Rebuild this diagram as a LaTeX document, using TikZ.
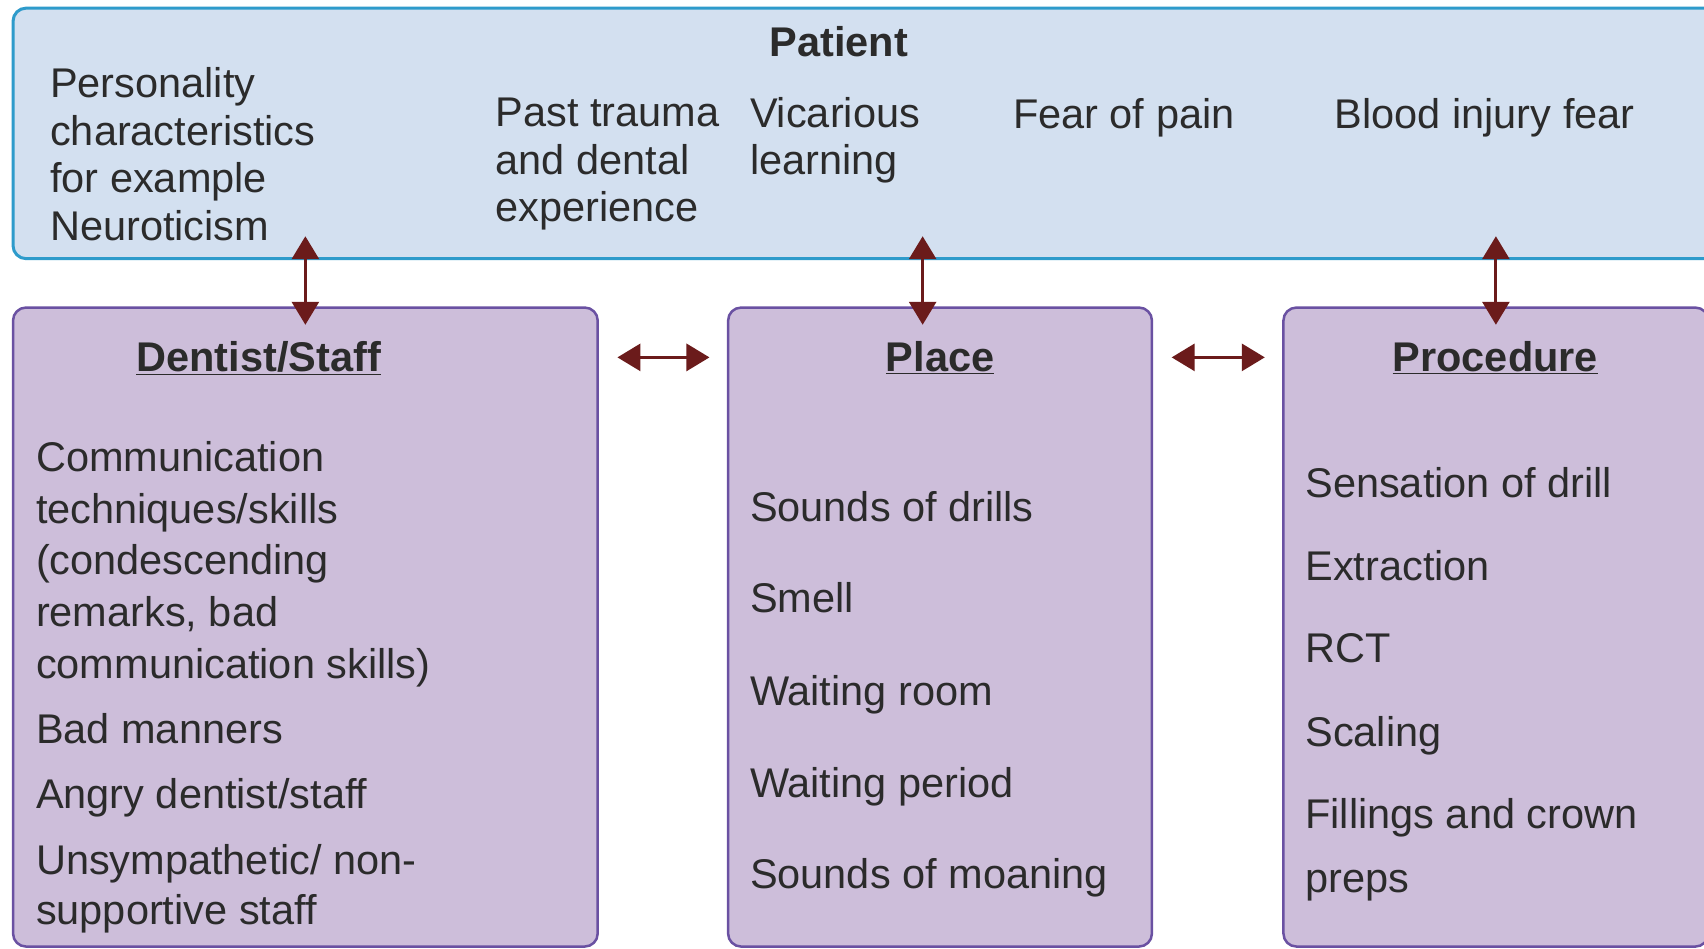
\documentclass[tikz,border=0pt]{standalone}
\usepackage{fontspec}
\setmainfont{Liberation Sans}
\usetikzlibrary{fit,arrows.meta,calc}
\definecolor{patFill}{HTML}{D3E0F0}
\definecolor{patLine}{HTML}{2E9BCB}
\definecolor{catFill}{HTML}{CDBEDA}
\definecolor{catLine}{HTML}{6A51A2}
\definecolor{arrC}{HTML}{6B1B1B}
\definecolor{txtC}{HTML}{2B2B2B}
\begin{document}
\begin{tikzpicture}[x=1.0867pt,y=-1.0867pt,
  patbox/.style={draw=patLine, fill=patFill, line width=3pt, rounded corners=13pt, inner sep=0pt},
  catbox/.style={draw=catLine, fill=catFill, line width=2.5pt, rounded corners=13pt, inner sep=0pt},
  txt/.style={font=\fontsize{41.5}{47.5}\selectfont, text=txtC, inner sep=0pt, anchor=base west, align=left},
  head/.style={font=\fontsize{41.5}{47.5}\selectfont\bfseries, text=txtC, inner sep=0pt, anchor=base},
  conn/.style={draw=arrC, line width=3pt, {Triangle[width=27pt,length=23pt]}-{Triangle[width=27pt,length=23pt]}}
]
\clip (0,0) rectangle (1568,873);
\fill[white] (0,0) rectangle (1568,873);
% boxes
\node[patbox, fit={(12,7.5)(1600,238)}] (pat) {};
\node[catbox, fit={(12,283)(550,871)}] (dent) {};
\node[catbox, fit={(670,283)(1060,871)}] (place) {};
\node[catbox, fit={(1181,283)(1572,871)}] (proc) {};
% patient texts (base = last line)
\node[head] (pathead) at (772,52) {Patient};
\node[txt] (p1) at (46,221) {Personality\\characteristics\\for example\\Neuroticism};
\node[txt] (p2) at (456,204) {Past trauma\\and dental\\experience};
\node[txt] (p3) at (690,161) {Vicarious\\learning};
\node[txt] (p4) at (932,118) {Fear of pain};
\node[txt] (p5) at (1228,118) {Blood injury fear};
% dentist
\node[head] (dhead) at (238,342) {\underline{Dentist/Staff}};
\node[txt, font=\fontsize{41.5}{51.6}\selectfont] (d1) at (33,624) {Communication\\techniques/skills\\(condescending\\remarks, bad\\communication skills)};
\node[txt] (d2) at (33,684) {Bad manners};
\node[txt] (d3) at (33,744) {Angry dentist/staff};
\node[txt, font=\fontsize{41.5}{50}\selectfont] (d4) at (33,851) {Unsympathetic/ non-\\supportive staff};
% place
\node[head] (plhead) at (865,342) {\underline{Place}};
\node[txt] (l1) at (690,480) {Sounds of drills};
\node[txt] (l2) at (690,564) {Smell};
\node[txt] (l3) at (690,649) {Waiting room};
\node[txt] (l4) at (690,734) {Waiting period};
\node[txt] (l5) at (690,818) {Sounds of moaning};
% procedure
\node[head] (prhead) at (1376,342) {\underline{Procedure}};
\node[txt] (r1) at (1201,458) {Sensation of drill};
\node[txt] (r2) at (1201,534) {Extraction};
\node[txt] (r3) at (1201,610) {RCT};
\node[txt] (r4) at (1201,687) {Scaling};
\node[txt, font=\fontsize{41.5}{64}\selectfont] (r5) at (1201,821) {Fillings and crown\\preps};
% connectors
\draw[conn] ($(pat.south -| dent.north)+(0,-22)$) -- ($(dent.north)+(0,17)$);
\draw[conn] ($(pat.south -| place.north)+(-16,-22)$) -- ($(place.north)+(-16,17)$);
\draw[conn] ($(pat.south -| proc.north)+(0,-22)$) -- ($(proc.north)+(0,17)$);
\draw[conn] ($(dent.north east)+(17,47)$) -- ($(place.north west)+(-16,47)$);
\draw[conn] ($(place.north east)+(17,47)$) -- ($(proc.north west)+(-16,47)$);
\end{tikzpicture}
\end{document}
